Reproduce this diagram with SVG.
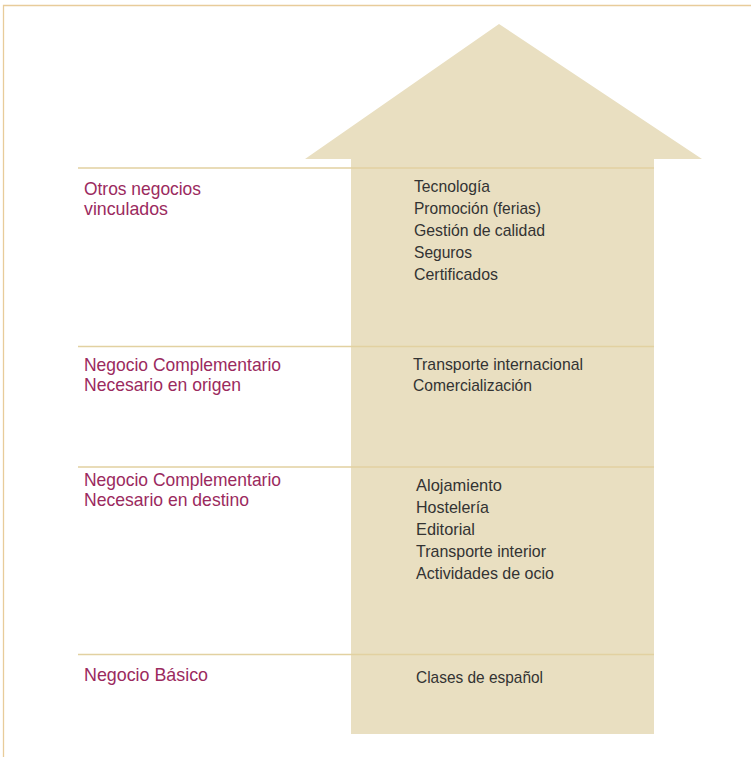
<svg xmlns="http://www.w3.org/2000/svg" width="751" height="757" viewBox="0 0 751 757">
<style>
.lbl{font-family:"Liberation Sans",Arial,sans-serif;font-size:18.5px;fill:#9b2a5e;}
.itm{font-family:"Liberation Sans",Arial,sans-serif;font-size:17px;fill:#333333;}
.sep{stroke:#e2d1a1;stroke-width:1.3;fill:none;}
</style>
<rect width="751" height="757" fill="#ffffff"/>
<path d="M3.5,757 V5.5 H751" fill="none" stroke="#e8cc9a" stroke-width="1.3"/>
<g id="arrow">
<polygon points="499,24 702,159 654,159 654,734 351,734 351,159 305,159" fill="#e9dfc1"/>
</g>
<g id="connectors">
<line class="sep" x1="78" y1="168" x2="654" y2="168"/>
<line class="sep" x1="78" y1="346.5" x2="654" y2="346.5"/>
<line class="sep" x1="78" y1="467" x2="654" y2="467"/>
<line class="sep" x1="78" y1="654.5" x2="654" y2="654.5"/>
</g>
<g id="otros">
<text class="lbl" x="84" y="195" textLength="117" lengthAdjust="spacingAndGlyphs">Otros negocios</text>
<text class="lbl" x="84" y="215" textLength="84" lengthAdjust="spacingAndGlyphs">vinculados</text>
<text class="itm" x="414" y="192" textLength="76" lengthAdjust="spacingAndGlyphs">Tecnología</text>
<text class="itm" x="414" y="214" textLength="127" lengthAdjust="spacingAndGlyphs">Promoción (ferias)</text>
<text class="itm" x="414" y="236" textLength="131" lengthAdjust="spacingAndGlyphs">Gestión de calidad</text>
<text class="itm" x="414" y="258" textLength="58" lengthAdjust="spacingAndGlyphs">Seguros</text>
<text class="itm" x="414" y="280" textLength="84" lengthAdjust="spacingAndGlyphs">Certificados</text>
</g>
<g id="origen">
<text class="lbl" x="84" y="371" textLength="197" lengthAdjust="spacingAndGlyphs">Negocio Complementario</text>
<text class="lbl" x="84" y="390.5" textLength="157" lengthAdjust="spacingAndGlyphs">Necesario en origen</text>
<text class="itm" x="413" y="370" textLength="170" lengthAdjust="spacingAndGlyphs">Transporte internacional</text>
<text class="itm" x="413" y="391" textLength="119" lengthAdjust="spacingAndGlyphs">Comercialización</text>
</g>
<g id="destino">
<text class="lbl" x="84" y="486" textLength="197" lengthAdjust="spacingAndGlyphs">Negocio Complementario</text>
<text class="lbl" x="84" y="506" textLength="165" lengthAdjust="spacingAndGlyphs">Necesario en destino</text>
<text class="itm" x="416" y="491" textLength="86" lengthAdjust="spacingAndGlyphs">Alojamiento</text>
<text class="itm" x="416" y="513" textLength="73" lengthAdjust="spacingAndGlyphs">Hostelería</text>
<text class="itm" x="416" y="535" textLength="59" lengthAdjust="spacingAndGlyphs">Editorial</text>
<text class="itm" x="416" y="557" textLength="130" lengthAdjust="spacingAndGlyphs">Transporte interior</text>
<text class="itm" x="416" y="579" textLength="138" lengthAdjust="spacingAndGlyphs">Actividades de ocio</text>
</g>
<g id="basico">
<text class="lbl" x="84" y="681" textLength="124" lengthAdjust="spacingAndGlyphs">Negocio Básico</text>
<text class="itm" x="416" y="683" textLength="127" lengthAdjust="spacingAndGlyphs">Clases de español</text>
</g>
</svg>
